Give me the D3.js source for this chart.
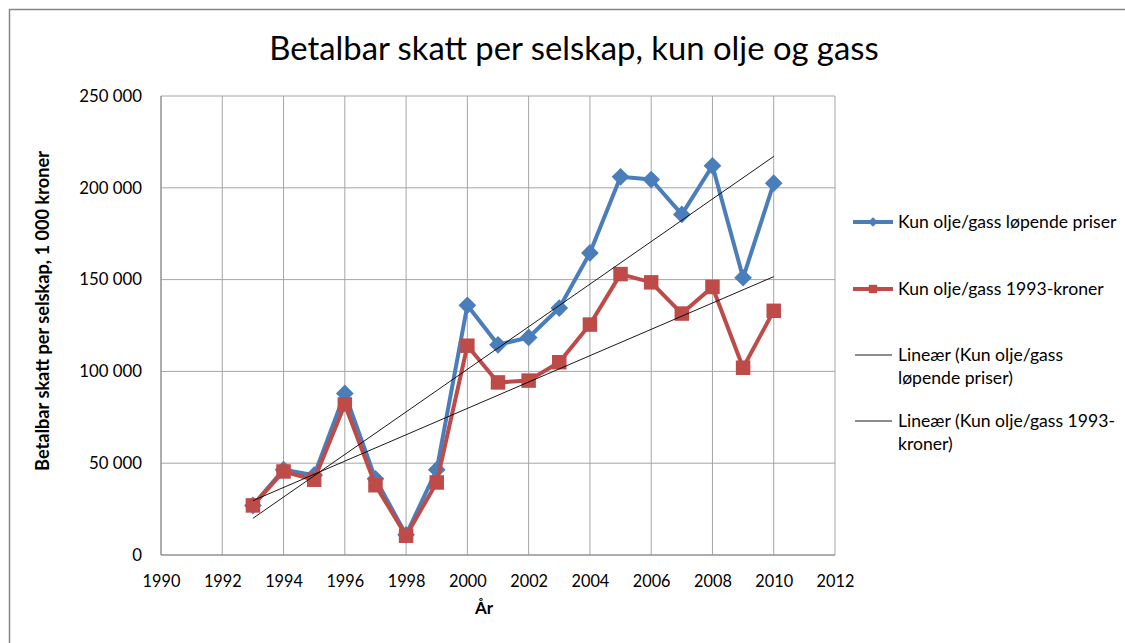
<!DOCTYPE html>
<html><head><meta charset="utf-8">
<script src="https://cdn.jsdelivr.net/npm/d3@7"></script>
<style>body{margin:0;background:#fff}svg{display:block}text{font-family:Lato,"Open Sans",sans-serif;fill:#000}</style>
</head><body><svg id="c" width="1125" height="643"></svg>
<script>
const years = [1993,1994,1995,1996,1997,1998,1999,2000,2001,2002,2003,2004,2005,2006,2007,2008,2009,2010];
const lopende = [27000,46500,43500,88000,41500,11000,46500,136000,114500,118500,134500,164500,206000,204500,185500,212000,151000,202500];
const kroner1993 = [27000,45500,41000,82000,38000,10500,39500,114000,94000,95000,105000,125500,153000,148500,131500,146000,102000,133000];
const xTicks = [1990,1992,1994,1996,1998,2000,2002,2004,2006,2008,2010,2012];
const yTicks = [0,50000,100000,150000,200000,250000];
const title = "Betalbar skatt per selskap, kun olje og gass";
const yTitle = "Betalbar skatt per selskap, 1 000 kroner";
const xTitle = "År";
const legendLabels = [["Kun olje/gass løpende priser"],["Kun olje/gass 1993-kroner"],["Lineær (Kun olje/gass","løpende priser)"],["Lineær (Kun olje/gass 1993-","kroner)"]];

const svg = d3.select("#c");
const blue = "#4A7EBB", red = "#BE4B48";
svg.append("rect").attr("x",9.5).attr("y",9.5).attr("width",1130).attr("height",650).attr("fill","#fff").attr("stroke","#868686").attr("stroke-width",1.5);

const L=161,R=835,T=96,B=555;
const x = d3.scaleLinear().domain([1990,2012]).range([L,R]);
const y = d3.scaleLinear().domain([0,250000]).range([B,T]);
const fmt = v => d3.format(",")(v).replace(/,/g," ");

// grid
const g = svg.append("g");
g.selectAll(".gx").data(xTicks).join("line").attr("x1",d=>x(d)).attr("x2",d=>x(d)).attr("y1",T).attr("y2",B).attr("stroke","#a6a6a6").attr("stroke-width",1);
g.selectAll(".gy").data(yTicks).join("line").attr("x1",L).attr("x2",R).attr("y1",d=>y(d)).attr("y2",d=>y(d)).attr("stroke","#a6a6a6").attr("stroke-width",1);
g.append("line").attr("x1",L).attr("x2",L).attr("y1",T).attr("y2",B).attr("stroke","#868686");
g.append("line").attr("x1",L).attr("x2",R).attr("y1",B).attr("y2",B).attr("stroke","#868686");

// axis labels via d3 axes
const ax = svg.append("g").attr("transform",`translate(0,${B})`).call(d3.axisBottom(x).tickValues(xTicks).tickFormat(d3.format("d")).tickSize(0).tickPadding(20));
ax.select(".domain").remove();
ax.selectAll("text").attr("font-size",16.3).attr("font-family","Lato,sans-serif").attr("fill","#000");
const ay = svg.append("g").attr("transform",`translate(${L},0)`).call(d3.axisLeft(y).tickValues(yTicks).tickFormat(fmt).tickSize(0).tickPadding(19));
ay.select(".domain").remove();
ay.selectAll("text").attr("font-size",16.8).attr("font-family","Lato,sans-serif").attr("fill","#000");

svg.append("text").attr("x",574).attr("y",60).attr("text-anchor","middle").attr("font-size",32.8).text(title);
svg.append("text").attr("transform","translate(49,311) rotate(-90)").attr("text-anchor","middle").attr("font-size",18.2).attr("font-weight","bold").text(yTitle);
svg.append("text").attr("x",484).attr("y",614).attr("text-anchor","middle").attr("font-size",17).attr("font-weight","bold").text(xTitle);

// trend lines
function reg(xs,ys){const n=xs.length,mx=d3.mean(xs),my=d3.mean(ys);let sxy=0,sxx=0;for(let i=0;i<n;i++){sxy+=(xs[i]-mx)*(ys[i]-my);sxx+=(xs[i]-mx)**2;}const b=sxy/sxx;return [b,my-b*mx];}
const line = d3.line().x(d=>x(d[0])).y(d=>y(d[1]));
// series
function series(vals,col,shape,size){
  svg.append("path").datum(years.map((yr,i)=>[yr,vals[i]])).attr("d",line).attr("fill","none").attr("stroke",col).attr("stroke-width",4).attr("stroke-linejoin","round");
  svg.selectAll(null).data(years.map((yr,i)=>[yr,vals[i]])).join("path").attr("transform",d=>`translate(${x(d[0])},${y(d[1])})`).attr("d",d3.symbol().type(shape).size(size)).attr("fill",col);
}
series(lopende,blue,d3.symbolDiamond2,200);
series(kroner1993,red,d3.symbolSquare,210);
[lopende,kroner1993].forEach(vals=>{
  const [b,a]=reg(years,vals);
  const x0=years[0],x1=years[years.length-1];
  svg.append("path").datum([[x0,a+b*x0],[x1,a+b*x1]]).attr("d",line).attr("stroke","#000").attr("stroke-width",0.9).attr("fill","none");
});

// legend
const lg = svg.append("g");
const ly=[222,289,355,421];
lg.append("line").attr("x1",853).attr("x2",893).attr("y1",ly[0]).attr("y2",ly[0]).attr("stroke",blue).attr("stroke-width",4);
lg.append("path").attr("transform",`translate(873,${ly[0]})`).attr("d",d3.symbol().type(d3.symbolDiamond2).size(60)).attr("fill",blue);
lg.append("line").attr("x1",853).attr("x2",893).attr("y1",ly[1]).attr("y2",ly[1]).attr("stroke",red).attr("stroke-width",4);
lg.append("path").attr("transform",`translate(873,${ly[1]})`).attr("d",d3.symbol().type(d3.symbolSquare).size(70)).attr("fill",red);
[2,3].forEach(i=>lg.append("line").attr("x1",855).attr("x2",892).attr("y1",ly[i]).attr("y2",ly[i]).attr("stroke","#000").attr("stroke-width",0.9));
legendLabels.forEach((lines,i)=>{
  lines.forEach((t,j)=>lg.append("text").attr("x",898).attr("y",ly[i]+6+j*23).attr("font-size",17.6).text(t));
});
</script></body></html>
